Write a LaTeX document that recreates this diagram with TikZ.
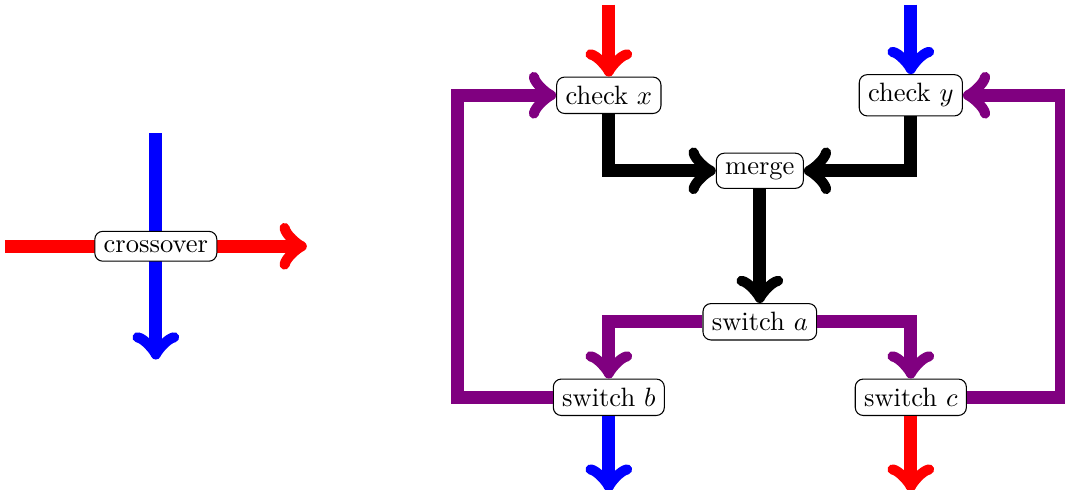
\documentclass[tikz,border=0pt]{standalone}
\usepackage{xcolor}
\definecolor{swpurple}{RGB}{128,0,128}
\usetikzlibrary{positioning, arrows.meta}

\begin{document}
\begin{tikzpicture}[
    % GLOBAL CFG
    >=to,
    % Styles
    block/.style={% For the boxes
        rectangle,
        rounded corners=3pt,
        draw,
        fill=white,
        },
    wire/.style={% Fat connectors
        line width=4.8pt,
        },
    ]

    \useasboundingbox (-2.064,-3.215) rectangle (12.042,3.262);

%Left part: the crossover
    \coordinate (xin) at (-2,0);
    \coordinate (xout) at (2,0);
    \coordinate (yin) at (0,1.5);
    \coordinate (yout) at (0,-1.5);
    \draw [->, wire, red] (xin) -- (xout);
    \draw [->, wire, blue] (yin) -- (yout);
    \node [block] (cross) at (0,0) {crossover};

%Right part
    % Draw the blocks
    \node [block] (chkx) at (6,2) {check $x$};
    \node [block] (chky) at (10,2) {check $y$};
    \node [block] (merge) at (8,1) {merge};
    \node [block] (swa) at (8,-1) {switch $a$};
    \node [block] (swb) at (6,-2) {switch $b$};
    \node [block] (swc) at (10,-2) {switch $c$};

    % Free ends and loop corners
    \coordinate (inx) at (6,3.2);
    \coordinate (iny) at (10,3.2);
    \coordinate (outb) at (6,-3.25);
    \coordinate (outc) at (10,-3.25);
    \coordinate (loopl) at (4,0);
    \coordinate (loopr) at (12,0);

    % Inputs and outputs
    \draw [->, wire, red] (inx) -- (chkx);
    \draw [->, wire, blue] (iny) -- (chky);
    \draw [->, wire, blue] (swb) -- (outb);
    \draw [->, wire, red] (swc) -- (outc);

    % Internal
    \draw [->, wire] (chkx) |- (merge);
    \draw [->, wire] (chky) |- (merge);
    \draw [->, wire] (merge) -- (swa);
    \draw [->, wire, swpurple] (swa) -| (swb);
    \draw [->, wire, swpurple] (swa) -| (swc);

    % Loops back
    \draw [->, wire, swpurple] (swb) -| (loopl) |- (chkx);
    \draw [->, wire, swpurple] (swc) -| (loopr) |- (chky);

\end{tikzpicture}
\end{document}
